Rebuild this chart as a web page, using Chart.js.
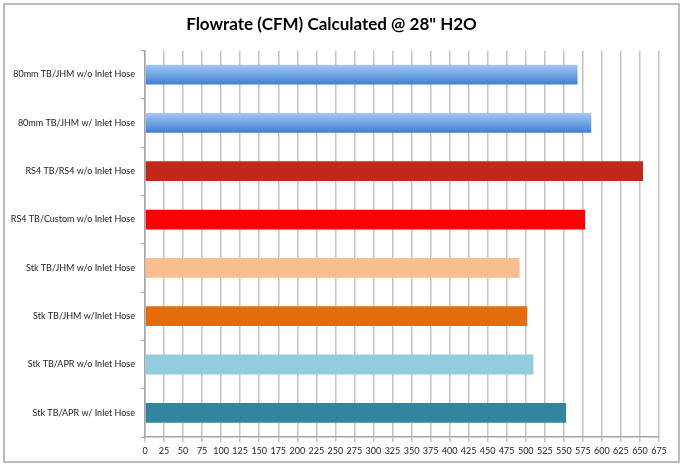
<!DOCTYPE html>
<html>
<head>
<meta charset="utf-8">
<script src="https://cdn.jsdelivr.net/npm/chart.js@4"></script>
<style>
	html, body { margin: 0; padding: 0; background: #fff; }
	#wrap { width: 682px; height: 466px; position: relative; }
</style>
</head>
<body>
<div id="wrap"><canvas id="flow" width="682" height="466"></canvas></div>
<script>
const categories = [
	'80mm TB/JHM w/o Inlet Hose',
	'80mm TB/JHM w/ Inlet Hose',
	'RS4 TB/RS4 w/o Inlet Hose',
	'RS4 TB/Custom w/o Inlet Hose',
	'Stk TB/JHM w/o Inlet Hose',
	'Stk TB/JHM w/Inlet Hose',
	'Stk TB/APR w/o Inlet Hose',
	'Stk TB/APR w/ Inlet Hose'
];
const flowrate = [568, 586, 654, 578, 492, 502, 510, 553];
const barColors = ['blue', 'blue', '#c0281c', '#ff0000', '#fbbf8f', '#e46c0a', '#93cddd', '#31859c'];
const xTicksMax = 675;

const font = 'Lato, "Open Sans", sans-serif';

// frame round the whole picture
const framePlugin = {
	id: 'frame',
	beforeDraw(chart) {
		const ctx = chart.ctx;
		ctx.save();
		ctx.fillStyle = '#fff';
		ctx.fillRect(0, 0, chart.width, chart.height);
		ctx.strokeStyle = '#a6a6a6';
		ctx.lineWidth = 1.5;
		ctx.strokeRect(4, 4, 675, 458);
		ctx.restore();
	}
};

function barFill(context) {
	const c = barColors[context.dataIndex];
	if (c !== 'blue') return c;
	const chart = context.chart;
	const y = chart.scales.y;
	if (!y || !chart.chartArea) return '#6a9fe3';
	const mid = y.getPixelForValue(context.dataIndex);
	const g = chart.ctx.createLinearGradient(0, mid - 10, 0, mid + 10);
	g.addColorStop(0, '#a4c8f6');
	g.addColorStop(1, '#3f7fd0');
	return g;
}

const flow_chart = new Chart(document.getElementById('flow'), {
	type: 'bar',
	plugins: [framePlugin],
	data: {
		labels: categories,
		datasets: [{
			label: 'Flowrate',
			data: flowrate,
			backgroundColor: barFill,
			borderWidth: 0,
			barPercentage: 0.41,
			categoryPercentage: 1
		}]
	},
	options: {
		indexAxis: 'y',
		responsive: false,
		animation: false,
		devicePixelRatio: 1,
		layout: { padding: { left: 4, right: 23, top: 2, bottom: 5 } },
		plugins: {
			legend: { display: false },
			tooltip: { enabled: false },
			title: {
				display: true,
				text: 'Flowrate (CFM) Calculated @ 28" H2O',
				color: '#000',
				font: { family: font, size: 17, weight: 'bold' },
				padding: { top: 12, bottom: 16 }
			}
		},
		scales: {
			x: {
				min: 0,
				max: xTicksMax,
				ticks: { stepSize: 25, color: '#222', font: { family: font, size: 9 }, padding: 4, maxRotation: 0, autoSkip: false },
				grid: { color: '#c3c3c3', lineWidth: 1.5, tickLength: 5 },
				border: { color: '#a6a6a6', width: 1.5 },
				afterFit(scale) { scale.height = 24; }
			},
			y: {
				ticks: { color: '#222', font: { family: font, size: 9 }, padding: 6 },
				grid: { drawOnChartArea: false, color: '#a6a6a6', tickLength: 4, offset: true },
				border: { color: '#a6a6a6', width: 1.5 },
				afterFit(scale) { scale.width = 141; }
			}
		}
	}
});
</script>
</body>
</html>
